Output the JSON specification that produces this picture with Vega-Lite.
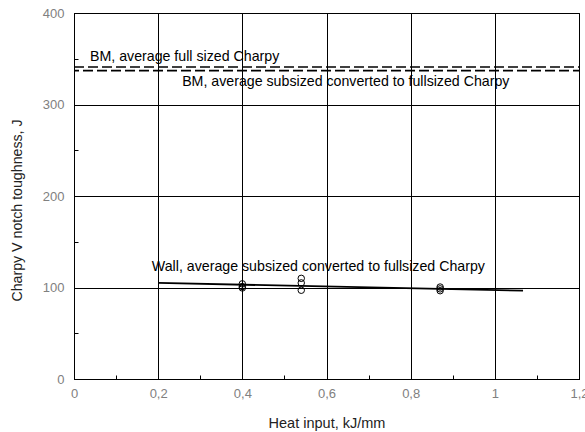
{
  "$schema": "https://vega.github.io/schema/vega-lite/v6.json",
  "width": 505,
  "height": 366,
  "autosize": {"type": "none"},
  "padding": {"left": 74, "top": 13, "right": 6, "bottom": 53},
  "background": "white",
  "config": {
    "view": {"stroke": "black", "strokeWidth": 1},
    "font": "Liberation Sans",
    "axis": {
      "domainColor": "black",
      "gridColor": "black",
      "gridWidth": 1,
      "tickColor": "black",
      "labelColor": "#808080",
      "labelFont": "Liberation Sans",
      "labelFontSize": 13,
      "titleFont": "Liberation Sans",
      "titleFontSize": 14.5,
      "titleFontWeight": "normal",
      "titleColor": "#222222"
    }
  },
  "datasets": {
    "pts": [
      {"hi": 0.4, "cv": 104}, {"hi": 0.4, "cv": 101}, {"hi": 0.4, "cv": 99.5},
      {"hi": 0.54, "cv": 110}, {"hi": 0.54, "cv": 105}, {"hi": 0.54, "cv": 97},
      {"hi": 0.87, "cv": 100.5}, {"hi": 0.87, "cv": 98.5}, {"hi": 0.87, "cv": 96.5}
    ],
    "bmfull": [{"hi": 0, "cv": 341}, {"hi": 1.2, "cv": 341}],
    "bmsub": [{"hi": 0, "cv": 337}, {"hi": 1.2, "cv": 337}],
    "wall": [{"hi": 0.2, "cv": 105}, {"hi": 1.067, "cv": 96.5}],
    "labels": [
      {"hi": 0.038, "cv": 352, "txt": "BM, average full sized Charpy"},
      {"hi": 0.257, "cv": 324.5, "txt": "BM, average subsized converted to fullsized Charpy"},
      {"hi": 0.185, "cv": 122, "txt": "Wall, average subsized converted to fullsized Charpy"}
    ]
  },
  "encoding": {
    "x": {
      "field": "hi", "type": "quantitative",
      "scale": {"domain": [0, 1.2], "nice": false, "zero": false},
      "axis": {
        "title": "Heat input, kJ/mm",
        "values": [0, 0.1, 0.2, 0.3, 0.4, 0.5, 0.6, 0.7, 0.8, 0.9, 1, 1.1, 1.2],
        "labelExpr": "round(datum.value*10) % 2 == 0 ? replace(toString(round(datum.value*10)/10), '.', ',') : ''",
        "grid": true,
        "gridOpacity": {"condition": {"test": "round(datum.value*10) % 2 == 0", "value": 1}, "value": 0},
        "tickSize": -4,
        "labelPadding": 12,
        "titlePadding": 16,
        "labelFlush": false,
        "labelOverlap": false
      }
    },
    "y": {
      "field": "cv", "type": "quantitative",
      "scale": {"domain": [0, 400], "nice": false},
      "axis": {
        "title": "Charpy V notch toughness, J",
        "titleFontSize": 14.2,
        "titleX": -57,
        "titleY": 197,
        "titleAngle": -90,
        "titleAlign": "center",
        "titleBaseline": "middle",
        "values": [0, 50, 100, 150, 200, 250, 300, 350, 400],
        "labelExpr": "datum.value % 100 == 0 ? toString(datum.value) : ''",
        "grid": true,
        "gridOpacity": {"condition": {"test": "datum.value % 100 == 0", "value": 1}, "value": 0},
        "tickSize": -4,
        "labelPadding": 14,
        "labelFlush": false,
        "labelOverlap": false
      }
    }
  },
  "layer": [
    {
      "data": {"name": "bmfull"},
      "mark": {"type": "line", "color": "black", "strokeWidth": 1.6, "strokeDash": [10, 4]}
    },
    {
      "data": {"name": "bmsub"},
      "mark": {"type": "line", "color": "black", "strokeWidth": 1.6, "strokeDash": [10, 4], "strokeDashOffset": 5}
    },
    {
      "data": {"name": "wall"},
      "mark": {"type": "line", "color": "black", "strokeWidth": 1.8}
    },
    {
      "data": {"name": "pts"},
      "mark": {"type": "point", "shape": "circle", "filled": false, "color": "black", "strokeWidth": 1, "size": 42, "opacity": 1}
    },
    {
      "data": {"name": "labels"},
      "mark": {"type": "text", "align": "left", "baseline": "middle", "fontSize": 14.2, "color": "black", "font": "Liberation Sans"},
      "encoding": {"text": {"field": "txt"}}
    }
  ]
}
